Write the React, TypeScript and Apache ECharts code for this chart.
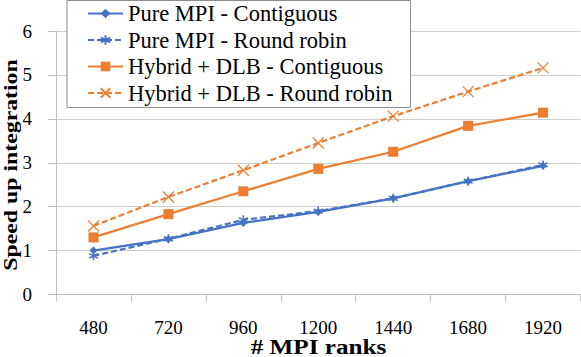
import React, { useEffect, useRef } from "react";
import * as echarts from "echarts";

const categories = ["480", "720", "960", "1200", "1440", "1680", "1920"];
const pureContiguous = [1.0, 1.26, 1.63, 1.88, 2.19, 2.58, 2.93];
const pureRoundRobin = [0.88, 1.27, 1.7, 1.9, 2.19, 2.58, 2.95];
const hybridContiguous = [1.3, 1.83, 2.35, 2.86, 3.25, 3.84, 4.14];
const hybridRoundRobin = [1.56, 2.22, 2.83, 3.45, 4.06, 4.62, 5.16];
const seriesNames = [
  "Pure MPI - Contiguous",
  "Pure MPI - Round robin",
  "Hybrid + DLB - Contiguous",
  "Hybrid + DLB - Round robin",
];
const xAxisTitle = "# MPI ranks";
const yAxisTitle = "Speed up integration";

const BLUE = "#4472C4";
const ORANGE = "#ED7D31";
const FONT = "'Liberation Serif', 'Times New Roman', serif";
const STAR = "path://M5,0L5,10M0.7,2.5L9.3,7.5M0.7,7.5L9.3,2.5";
const CROSS = "path://M0,0L10,10M10,0L0,10";

export default function App() {
  const ref = useRef<HTMLDivElement>(null);
  useEffect(() => {
    const chart = echarts.init(ref.current!, undefined, { renderer: "svg" });
    const titleStyle = (text: string, size: number) => ({
      text,
      fontFamily: FONT,
      fontWeight: "bold",
      fontSize: size,
      fill: "#000",
      align: "center",
      verticalAlign: "middle",
      textAlign: "center",
      textVerticalAlign: "middle",
    });
    chart.setOption({
      animation: false,
      backgroundColor: "#ffffff",
      textStyle: { fontFamily: FONT, color: "#000" },
      grid: { left: 56, right: 0.5, top: 31, bottom: 62.5, containLabel: false, outerBoundsMode: "none" },
      legend: {
        orient: "vertical",
        left: 67,
        top: 0.5,
        padding: [1.5, 18, 3, 20],
        itemWidth: 35,
        itemHeight: 12,
        itemGap: 3.5,
        backgroundColor: "#ffffff",
        borderColor: "#8c8c8c",
        borderWidth: 1,
        textStyle: { fontFamily: FONT, fontSize: 22.5, color: "#000", lineHeight: 22 },
        data: seriesNames,
      },
      graphic: [
        {
          type: "text",
          x: 318.5,
          y: 347,
          scaleX: 1.26,
          style: titleStyle(xAxisTitle, 20),
          z: 10,
        },
        {
          type: "text",
          x: 11,
          y: 165,
          rotation: Math.PI / 2,
          scaleX: 1.22,
          style: titleStyle(yAxisTitle, 19.5),
          z: 10,
        },
      ],
      xAxis: {
        type: "category",
        data: categories,
        boundaryGap: true,
        axisLine: { lineStyle: { color: "#bfbfbf", width: 1 } },
        axisTick: { show: true, length: 7, lineStyle: { color: "#bfbfbf" } },
        axisLabel: { margin: 23, fontFamily: FONT, fontSize: 19, color: "#000" },
      },
      yAxis: {
        type: "value",
        min: 0,
        max: 6,
        interval: 1,
        axisLine: { show: true, lineStyle: { color: "#bfbfbf", width: 1 } },
        axisTick: { show: true, length: 8, lineStyle: { color: "#bfbfbf" } },
        splitLine: { lineStyle: { color: "#cccccc", width: 1 } },
        axisLabel: { margin: 24, fontFamily: FONT, fontSize: 19, color: "#000" },
      },
      series: [
        {
          name: seriesNames[0],
          type: "line",
          data: pureContiguous,
          color: BLUE,
          symbol: "diamond",
          symbolSize: 8,
          lineStyle: { color: BLUE, width: 2.2 },
          itemStyle: { color: BLUE },
          z: 4,
        },
        {
          name: seriesNames[1],
          type: "line",
          data: pureRoundRobin,
          color: BLUE,
          symbol: STAR,
          symbolSize: 9,
          lineStyle: { color: BLUE, width: 2.2, type: [6, 3] },
          itemStyle: { color: BLUE, borderColor: BLUE, borderWidth: 1.5 },
          z: 3,
        },
        {
          name: seriesNames[2],
          type: "line",
          data: hybridContiguous,
          color: ORANGE,
          symbol: "rect",
          symbolSize: 10,
          lineStyle: { color: ORANGE, width: 2.2 },
          itemStyle: { color: ORANGE },
          z: 2,
        },
        {
          name: seriesNames[3],
          type: "line",
          data: hybridRoundRobin,
          color: ORANGE,
          symbol: CROSS,
          symbolSize: 11,
          lineStyle: { color: ORANGE, width: 2.2, type: [6, 3] },
          itemStyle: { color: ORANGE, borderColor: ORANGE, borderWidth: 1.2 },
          z: 2,
        },
      ],
    });
    return () => chart.dispose();
  }, []);
  return <div ref={ref} style={{ width: 581, height: 357, position: "fixed", left: 0, top: 0 }} />;
}
